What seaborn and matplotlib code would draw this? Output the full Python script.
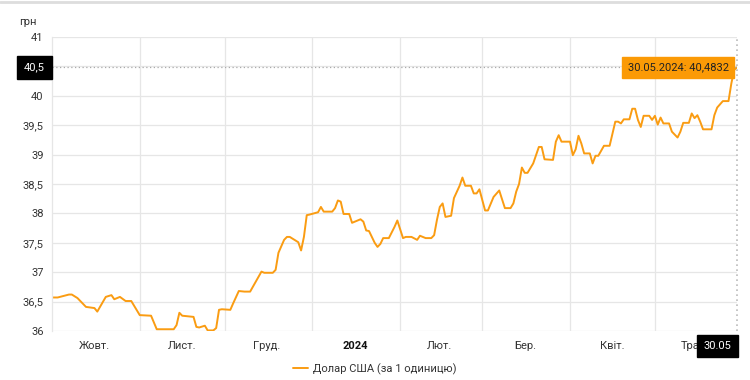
import pandas as pd
import numpy as np
import seaborn as sns
import matplotlib.pyplot as plt
import matplotlib.dates as mdates
from matplotlib.lines import Line2D
from matplotlib.ticker import FixedLocator, FuncFormatter

# USD/UAH official rate
dates = [
    "2023-10-01", "2023-10-03", "2023-10-07", "2023-10-08", "2023-10-10", "2023-10-13",
    "2023-10-16", "2023-10-17", "2023-10-20", "2023-10-22", "2023-10-23", "2023-10-25",
    "2023-10-27", "2023-10-29", "2023-11-01", "2023-11-05", "2023-11-07", "2023-11-13",
    "2023-11-14", "2023-11-15", "2023-11-16", "2023-11-20", "2023-11-21", "2023-11-22",
    "2023-11-24", "2023-11-25", "2023-11-27", "2023-11-28", "2023-11-29", "2023-11-30",
    "2023-12-03", "2023-12-04", "2023-12-06", "2023-12-08", "2023-12-10", "2023-12-14",
    "2023-12-15", "2023-12-18", "2023-12-19", "2023-12-20", "2023-12-22", "2023-12-23",
    "2023-12-24", "2023-12-27", "2023-12-28", "2023-12-29", "2023-12-30", "2023-12-31",
    "2024-01-03", "2024-01-04", "2024-01-05", "2024-01-08", "2024-01-09", "2024-01-10",
    "2024-01-11", "2024-01-12", "2024-01-14", "2024-01-15", "2024-01-18", "2024-01-19",
    "2024-01-20", "2024-01-21", "2024-01-23", "2024-01-24", "2024-01-25", "2024-01-26",
    "2024-01-28", "2024-01-30", "2024-01-31", "2024-02-02", "2024-02-03", "2024-02-05",
    "2024-02-07", "2024-02-08", "2024-02-10", "2024-02-12", "2024-02-13", "2024-02-14",
    "2024-02-15", "2024-02-16", "2024-02-17", "2024-02-19", "2024-02-20", "2024-02-22",
    "2024-02-23", "2024-02-24", "2024-02-26", "2024-02-27", "2024-02-28", "2024-02-29",
    "2024-03-01", "2024-03-02", "2024-03-03", "2024-03-05", "2024-03-07", "2024-03-08",
    "2024-03-09", "2024-03-11", "2024-03-12", "2024-03-13", "2024-03-14", "2024-03-15",
    "2024-03-16", "2024-03-17", "2024-03-19", "2024-03-21", "2024-03-22", "2024-03-23",
    "2024-03-26", "2024-03-27", "2024-03-28", "2024-03-29", "2024-04-01", "2024-04-02",
    "2024-04-03", "2024-04-04", "2024-04-05", "2024-04-06", "2024-04-08", "2024-04-09",
    "2024-04-10", "2024-04-11", "2024-04-13", "2024-04-15", "2024-04-17", "2024-04-18",
    "2024-04-19", "2024-04-20", "2024-04-22", "2024-04-23", "2024-04-24", "2024-04-25",
    "2024-04-26", "2024-04-27", "2024-04-29", "2024-04-30", "2024-05-01", "2024-05-02",
    "2024-05-03", "2024-05-04", "2024-05-06", "2024-05-07", "2024-05-09", "2024-05-10",
    "2024-05-11", "2024-05-13", "2024-05-14", "2024-05-15", "2024-05-16", "2024-05-17",
    "2024-05-18", "2024-05-21", "2024-05-22", "2024-05-23", "2024-05-25", "2024-05-27",
    "2024-05-28", "2024-05-29", "2024-05-30",
]
rates = [
    36.57, 36.57, 36.62, 36.62, 36.56, 36.41,
    36.39, 36.33, 36.58, 36.61, 36.54, 36.58,
    36.51, 36.51, 36.27, 36.26, 36.03, 36.03,
    36.10, 36.31, 36.26, 36.24, 36.07, 36.06,
    36.09, 36.01, 36.01, 36.05, 36.36, 36.37,
    36.36, 36.47, 36.68, 36.67, 36.67, 37.01,
    36.99, 36.99, 37.04, 37.33, 37.55, 37.60,
    37.60, 37.51, 37.37, 37.60, 37.97, 37.98,
    38.02, 38.11, 38.03, 38.03, 38.09, 38.22,
    38.20, 37.99, 37.99, 37.84, 37.90, 37.86,
    37.71, 37.70, 37.50, 37.43, 37.48, 37.58,
    37.58, 37.77, 37.88, 37.58, 37.60, 37.60,
    37.55, 37.62, 37.58, 37.58, 37.63, 37.89,
    38.11, 38.17, 37.94, 37.96, 38.26, 38.47,
    38.61, 38.47, 38.47, 38.34, 38.34, 38.41,
    38.23, 38.05, 38.05, 38.28, 38.39, 38.24,
    38.09, 38.09, 38.17, 38.37, 38.50, 38.78,
    38.69, 38.69, 38.85, 39.13, 39.13, 38.92,
    38.91, 39.22, 39.33, 39.22, 39.22, 38.99,
    39.09, 39.32, 39.19, 39.02, 39.02, 38.85,
    38.98, 38.98, 39.15, 39.15, 39.56, 39.56,
    39.53, 39.60, 39.60, 39.78, 39.78, 39.59,
    39.47, 39.66, 39.66, 39.59, 39.66, 39.51,
    39.63, 39.53, 39.53, 39.39, 39.29, 39.39,
    39.54, 39.54, 39.70, 39.62, 39.67, 39.56,
    39.43, 39.43, 39.67, 39.80, 39.91, 39.91,
    40.21, 40.44, 40.4832,
]

month_starts = ["2023-11-01", "2023-12-01", "2024-01-01", "2024-02-01",
                "2024-03-01", "2024-04-01", "2024-05-01"]
label_dates = ["2023-10-16", "2023-11-16", "2023-12-16", "2024-01-16",
               "2024-02-15", "2024-03-16", "2024-04-16", "2024-05-15"]
month_labels = ["Жовт.", "Лист.", "Груд.", "2024", "Лют.", "Бер.", "Квіт.", "Трав."]
y_ticks = [36, 36.5, 37, 37.5, 38, 38.5, 39, 39.5, 40, 40.5, 41]

ORANGE = "#fa9c12"
TIP = "#fb9a06"
GRID = "#e6e6e6"
TXT = "#333333"

sns.set_theme(style="white")
plt.rcParams["font.family"] = ["Roboto", "DejaVu Sans"]

df = pd.DataFrame({"date": pd.to_datetime(dates), "rate": rates})

fig = plt.figure(figsize=(7.5, 3.8), dpi=100)
ax = fig.add_axes([52 / 750, 1 - 331 / 380, 685 / 750, 294 / 380])

sns.lineplot(data=df, x="date", y="rate", ax=ax, color=ORANGE, lw=1.4)

x0 = pd.Timestamp("2023-10-01")
x1 = pd.Timestamp(dates[-1])
ax.set_xlim(x0, x1)
ax.set_ylim(36, 41)

# y axis; the 40,5 label sits under the crosshair box, so it is left blank
ax.set_yticks(y_ticks)
ax.yaxis.set_major_formatter(
    FuncFormatter(lambda v, p: "" if v == 40.5 else f"{v:g}".replace(".", ",")))
ax.tick_params(axis="y", length=0, pad=6, labelsize=8, labelcolor=TXT)
ax.grid(axis="y", color=GRID, lw=0.9)

# x axis: grid at month starts, labels mid-month
ax.xaxis.set_minor_locator(FixedLocator(mdates.date2num(pd.to_datetime(month_starts))))
ax.xaxis.set_major_locator(FixedLocator(mdates.date2num(pd.to_datetime(label_dates))))
ax.set_xticklabels(month_labels)
ax.tick_params(axis="x", which="both", length=0, pad=7, labelsize=8, labelcolor=TXT)
ax.grid(axis="x", which="minor", color=GRID, lw=0.9)
ax.grid(axis="x", which="major", visible=False)
for lab in ax.get_xticklabels():
    if lab.get_text() == "2024":
        lab.set_fontweight("bold")
        lab.set_color("#111111")

ax.set_xlabel("")
ax.set_ylabel("")
for s in ["top", "right", "bottom"]:
    ax.spines[s].set_visible(False)
ax.spines["left"].set_color(GRID)
ax.spines["left"].set_linewidth(0.9)

ax.annotate("грн", xy=(0, 1), xycoords="axes fraction", xytext=(-11, 11),
            textcoords="offset points", ha="right", va="center",
            fontsize=8, color=TXT, annotation_clip=False)

# crosshair at the last point
last_x, last_y = df["date"].iloc[-1], df["rate"].iloc[-1]
ax.axhline(last_y, color="#aaaaaa", lw=0.9, ls=(0, (1, 2)))
ax.axvline(last_x, color="#bbbbbb", lw=1.2, ls=(0, (1, 2)), clip_on=False)

ax.annotate("40,5", xy=(0, last_y), xycoords=("axes fraction", "data"),
            xytext=(-5, 0), textcoords="offset points", ha="right", va="center",
            fontsize=8, color="white",
            bbox=dict(boxstyle="square,pad=0.6", fc="black", ec="black"),
            annotation_clip=False)
ax.annotate("30.05.2024: 40,4832", xy=(last_x, last_y), xytext=(-6, 0),
            textcoords="offset points", ha="right", va="center", fontsize=8,
            color="#222222",
            bbox=dict(boxstyle="square,pad=0.5", fc=TIP, ec=TIP),
            annotation_clip=False, zorder=5)
ax.annotate("30.05", xy=(last_x, 0), xycoords=("data", "axes fraction"),
            xytext=(-4, -11), textcoords="offset points", ha="right", va="center",
            fontsize=8, color="white",
            bbox=dict(boxstyle="square,pad=0.55", fc="black", ec="black"),
            annotation_clip=False, zorder=5)

# page border line at top
fig.add_artist(Line2D([0, 1], [0.995, 0.995], color="#dddddd", lw=2,
                      transform=fig.transFigure))

handle = Line2D([], [], color=ORANGE, lw=1.4)
fig.legend([handle], ["Долар США (за 1 одиницю)"], loc="center",
           bbox_to_anchor=(0.5, 1 - 369 / 380), frameon=False, fontsize=8,
           handlelength=1.3, handletextpad=0.5, labelcolor=TXT)

fig.savefig("out.png", dpi=100)
